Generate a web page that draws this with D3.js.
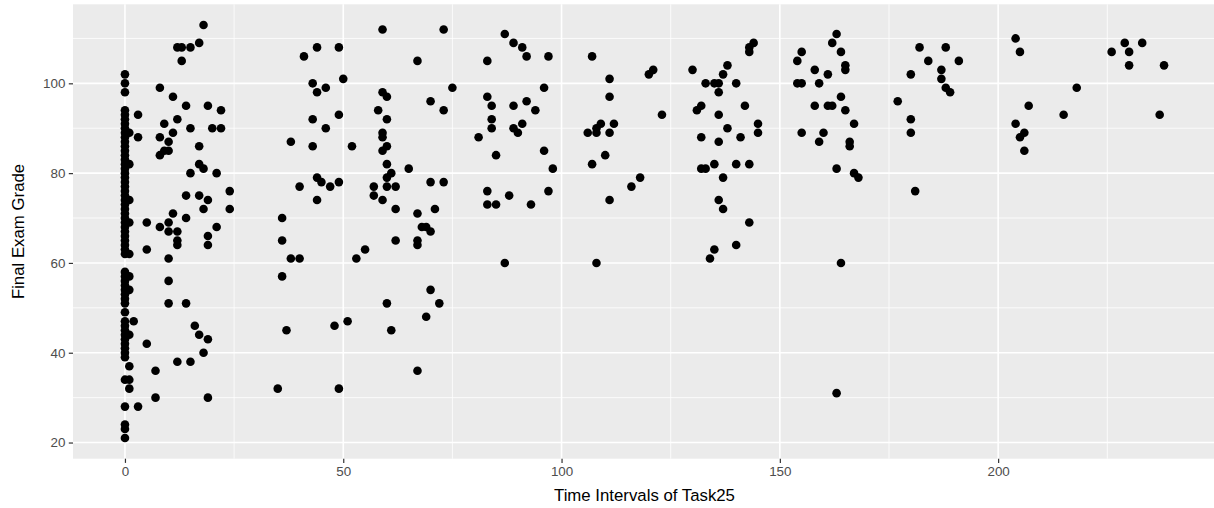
<!DOCTYPE html>
<html>
<head>
<meta charset="utf-8">
<script src="https://cdn.jsdelivr.net/npm/d3@7/dist/d3.min.js"></script>
<style>
  body { margin: 0; background: #ffffff; }
  svg { display: block; }
  text { font-family: "Liberation Sans", Arial, Helvetica, sans-serif; }
</style>
</head>
<body>
<svg id="chart" width="1214" height="508"></svg>
<script>
// Final exam grades of students who logged no time on Task25
const zeroTimeGrades = [
  102, 100, 98,
  94, 93, 92, 91, 90, 89, 88, 87, 86, 85, 84, 83, 82, 81, 80, 79, 78, 77,
  76, 75, 74, 73, 72, 71, 70, 69, 68, 67, 66, 65, 64, 63, 62,
  58, 57, 56, 55, 54, 53, 52, 51, 49,
  47, 46, 45, 44, 43, 42, 41, 40, 39,
  34, 28, 24, 23, 21
];

// [time interval on Task25, final exam grade] for the remaining students
const band0to25 = [
  [18,113],[17,109],[12,108],[13,108],[15,108],[13,105],
  [8,99],[11,97],[14,95],[19,95],[22,94],[3,93],[12,92],[9,91],[15,90],[20,90],[22,90],
  [11,89],[8,88],[3,88],[1,89],[10,87],[17,86],[9,85],[10,85],[8,84],[1,82],[17,82],
  [18,81],[15,80],[21,80],[24,76],[14,75],[17,75],[19,74],[1,74],[18,72],[24,72],
  [11,71],[14,70],[1,69],[5,69],[10,69],[8,68],[21,68],[10,67],[12,67],[19,66],
  [12,65],[12,64],[19,64],[5,63],[1,62],[10,61],
  [1,57],[1,54],[10,56],[10,51],[14,51],[2,47],[16,46],[17,44],[19,43],[1,44],
  [5,42],[18,40],[12,38],[15,38],[1,37],[7,36],[1,34],[1,32],[7,30],[19,30],[3,28]
];

const band35to75 = [
  [59,112],[73,112],[44,108],[49,108],[41,106],[67,105],[50,101],[43,100],[46,99],
  [44,98],[59,98],[60,97],[75,99],[70,96],[73,94],[58,94],[60,92],[43,92],[49,93],
  [46,90],[59,89],[59,88],[38,87],[43,86],[52,86],[60,86],[59,85],[60,82],[65,81],
  [61,80],[60,79],[44,79],[45,78],[49,78],[70,78],[73,78],[40,77],[47,77],[57,77],
  [60,77],[62,77],[57,75],[59,74],[44,74],[62,72],[71,72],[67,71],[36,70],[68,68],
  [69,68],[70,67],
  [36,65],[62,65],[67,65],[67,64],[55,63],[38,61],[40,61],[53,61],[36,57],[70,54],
  [60,51],[72,51],[69,48],[51,47],[48,46],[37,45],[61,45],[67,36],[35,32],[49,32]
];

const band80to125 = [
  [87,111],[89,109],[91,108],[92,106],[97,106],[83,105],[107,106],[120,102],[121,103],
  [111,101],[96,99],[83,97],[84,95],[89,95],[92,96],[94,94],[111,97],[123,93],[84,92],
  [84,90],[89,90],[90,89],[91,91],[81,88],[85,84],[96,85],[98,81],[106,89],[108,89],
  [108,90],[109,91],[111,89],[112,91],[110,84],[107,82],[118,79],[116,77],[83,76],
  [97,76],[88,75],[83,73],[85,73],[93,73],[111,74],[87,60],[108,60]
];

const band130to145 = [
  [144,109],[143,108],[143,107],[130,103],[138,104],[137,102],[133,100],[135,100],
  [136,100],[140,100],[136,98],[142,95],[132,95],[131,94],[136,93],[145,91],[145,89],
  [138,90],[132,88],[141,88],[136,87],[135,82],[140,82],[143,82],[132,81],[133,81],
  [137,79],[136,74],[137,72],[143,69],[140,64],[135,63],[134,61]
];

const band150to170 = [
  [163,111],[162,109],[164,107],[155,107],[154,105],[165,104],[165,103],[158,103],
  [161,102],[154,100],[155,100],[159,100],[164,97],[158,95],[161,95],[162,95],
  [165,94],[167,91],[155,89],[160,89],[159,87],[166,87],[166,86],[163,81],[167,80],
  [168,79],[164,60],[163,31]
];

const band175to210 = [
  [182,108],[188,108],[184,105],[191,105],[180,102],[187,103],[187,101],[188,99],
  [189,98],[177,96],[180,92],[180,89],[181,76],[204,110],[205,107],[207,95],[204,91],
  [206,89],[205,88],[206,85]
];

const band215to240 = [
  [229,109],[233,109],[226,107],[230,107],[230,104],[238,104],[218,99],[215,93],[237,93]
];

const xMajor = [0, 50, 100, 150, 200];
const xMinor = [25, 75, 125, 175, 225];
const yMajor = [20, 40, 60, 80, 100];
const yMinor = [30, 50, 70, 90, 110];

const xTitle = "Time Intervals of Task25";
const yTitle = "Final Exam Grade";

const points = zeroTimeGrades.map(g => ({ t: 0, g }))
  .concat([band0to25, band35to75, band80to125, band130to145, band150to170, band175to210, band215to240]
    .flat().map(([t, g]) => ({ t, g })));

const svg = d3.select("#chart");
const panel = { left: 73, right: 1216, top: 4.3, bottom: 458.7 };

// continuous scales padded by 5% on each side of the data range
function padded(values) {
  const [lo, hi] = d3.extent(values);
  const pad = (hi - lo) * 0.05;
  return [lo - pad, hi + pad];
}

const x = d3.scaleLinear().domain(padded(points.map(d => d.t))).range([panel.left, panel.right]);
const y = d3.scaleLinear().domain(padded(points.map(d => d.g))).range([panel.bottom, panel.top]);

// panel background
svg.append("rect")
  .attr("x", panel.left).attr("y", panel.top)
  .attr("width", panel.right - panel.left).attr("height", panel.bottom - panel.top)
  .attr("fill", "#EBEBEB");

const grid = svg.append("g");

// minor grid
grid.selectAll(".xminor").data(xMinor).join("line")
  .attr("x1", d => x(d)).attr("x2", d => x(d))
  .attr("y1", panel.top).attr("y2", panel.bottom)
  .attr("stroke", "#ffffff").attr("stroke-width", 0.8);
grid.selectAll(".yminor").data(yMinor).join("line")
  .attr("y1", d => y(d)).attr("y2", d => y(d))
  .attr("x1", panel.left).attr("x2", panel.right)
  .attr("stroke", "#ffffff").attr("stroke-width", 0.8);

// major grid
grid.selectAll(".xmajor").data(xMajor).join("line")
  .attr("x1", d => x(d)).attr("x2", d => x(d))
  .attr("y1", panel.top).attr("y2", panel.bottom)
  .attr("stroke", "#ffffff").attr("stroke-width", 1.6);
grid.selectAll(".ymajor").data(yMajor).join("line")
  .attr("y1", d => y(d)).attr("y2", d => y(d))
  .attr("x1", panel.left).attr("x2", panel.right)
  .attr("stroke", "#ffffff").attr("stroke-width", 1.6);

// points
svg.append("g").selectAll("circle").data(points).join("circle")
  .attr("cx", d => x(d.t))
  .attr("cy", d => y(d.g))
  .attr("r", 4.3)
  .attr("fill", "#000000");

// axes
const xAxis = svg.append("g")
  .attr("transform", `translate(0,${panel.bottom})`)
  .call(d3.axisBottom(x).tickValues(xMajor).tickSize(4.2).tickPadding(3.4));
const yAxis = svg.append("g")
  .attr("transform", `translate(${panel.left},0)`)
  .call(d3.axisLeft(y).tickValues(yMajor).tickSize(4.2).tickPadding(3.4));

[xAxis, yAxis].forEach(a => {
  a.select(".domain").remove();
  a.selectAll(".tick line").attr("stroke", "#333333").attr("stroke-width", 1.2);
  a.selectAll(".tick text")
    .attr("fill", "#4D4D4D")
    .style("font-size", "13.4px")
    .style("font-family", '"Liberation Sans", Arial, sans-serif');
});

// axis titles
svg.append("text")
  .attr("x", (panel.left + panel.right) / 2)
  .attr("y", 501)
  .attr("text-anchor", "middle")
  .attr("fill", "#000000")
  .style("font-size", "16.8px")
  .text(xTitle);

svg.append("text")
  .attr("transform", `translate(24,${(panel.top + panel.bottom) / 2}) rotate(-90)`)
  .attr("text-anchor", "middle")
  .attr("fill", "#000000")
  .style("font-size", "16.8px")
  .text(yTitle);
</script>
</body>
</html>
